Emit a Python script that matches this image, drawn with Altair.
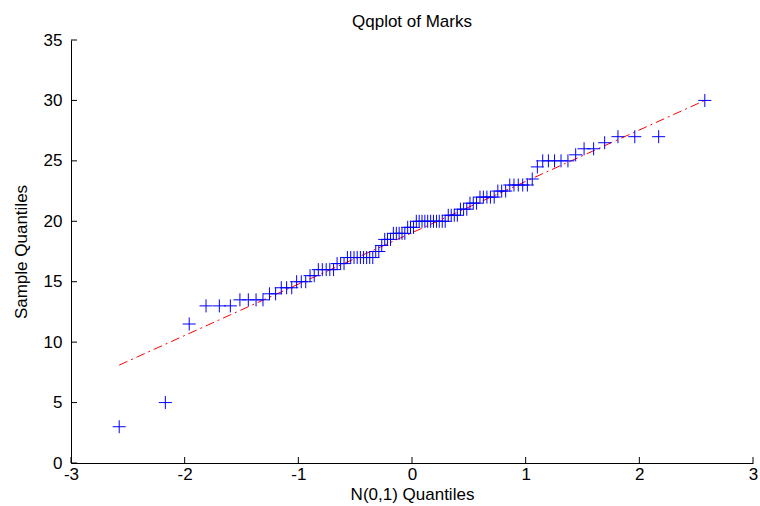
import altair as alt
import pandas as pd

# Theoretical N(0,1) quantiles (x positions of the crosses)
theoretical = [
    -2.576, -2.170, -1.960, -1.812, -1.695, -1.598, -1.514, -1.440, -1.372, -1.311,
    -1.254, -1.200, -1.150, -1.103, -1.058, -1.015, -0.974, -0.935, -0.897, -0.860,
    -0.824, -0.789, -0.755, -0.723, -0.690, -0.659, -0.628, -0.598, -0.568, -0.539,
    -0.510, -0.482, -0.454, -0.426, -0.399, -0.372, -0.345, -0.319, -0.292, -0.266,
    -0.240, -0.215, -0.189, -0.164, -0.138, -0.113, -0.088, -0.063, -0.038, -0.013,
    0.013, 0.038, 0.063, 0.088, 0.113, 0.138, 0.164, 0.189, 0.215, 0.240,
    0.266, 0.292, 0.319, 0.345, 0.372, 0.399, 0.426, 0.454, 0.482, 0.510,
    0.539, 0.568, 0.598, 0.628, 0.659, 0.690, 0.723, 0.755, 0.789, 0.824,
    0.860, 0.897, 0.935, 0.974, 1.015, 1.058, 1.103, 1.150, 1.200, 1.254,
    1.311, 1.372, 1.440, 1.514, 1.598, 1.695, 1.812, 1.960, 2.170, 2.576,
]

# Sorted sample values (Marks)
sample = [
    3, 5, 11.5, 13, 13, 13, 13.5, 13.5, 13.5, 13.5,
    14, 14, 14.5, 14.5, 14.5, 15, 15, 15, 15.5, 15.5,
    16, 16, 16, 16, 16, 16.5, 16.5, 16.5, 17, 17,
    17, 17, 17, 17, 17, 17, 17, 17.5, 17.5, 18,
    18.5, 18.5, 18.5, 19, 19, 19, 19, 19, 19.5, 19.5,
    19.5, 20, 20, 20, 20, 20, 20, 20, 20, 20,
    20, 20, 20.5, 20.5, 20.5, 20.5, 21, 21, 21, 21.5,
    21.5, 21.5, 22, 22, 22, 22, 22, 22.5, 22.5, 22.5,
    23, 23, 23, 23, 23, 23.5, 24.5, 25, 25, 25,
    25, 25, 25.5, 26, 26, 26.5, 27, 27, 27, 30,
]

# Reference line (through quartiles), endpoints
line_x = [-2.576, 2.576]
line_y = [8.1, 30.0]

x_ticks = [-3, -2, -1, 0, 1, 2, 3]
y_ticks = [0, 5, 10, 15, 20, 25, 30, 35]

W, H = 682, 423
FONT = "Liberation Sans"

pts = pd.DataFrame({"x": theoretical, "y": sample})
ln = pd.DataFrame({"x": line_x, "y": line_y})
xt = pd.DataFrame({"x": x_ticks})
yt = pd.DataFrame({"y": y_ticks})

xscale = alt.Scale(domain=[-3, 3], nice=False, zero=False)
yscale = alt.Scale(domain=[0, 35], nice=False, zero=False)

xaxis = alt.Axis(values=x_ticks, title="N(0,1) Quantiles", ticks=False, grid=False,
                 labelPadding=3, titlePadding=4, labelFlush=False,
                 labelExpr="'' + datum.value")
yaxis = alt.Axis(values=y_ticks, title="Sample Quantiles", ticks=False, grid=False,
                 labelPadding=9, titlePadding=13, labelFlush=False,
                 labelExpr="'' + datum.value")

line = alt.Chart(ln).mark_line(color="#FF0000", strokeWidth=1, strokeDash=[9, 4, 2, 4]).encode(
    x=alt.X("x:Q", scale=xscale, axis=xaxis),
    y=alt.Y("y:Q", scale=yscale, axis=yaxis),
)

points = alt.Chart(pts).mark_point(
    shape="M-1,0L1,0M0,-1L0,1", size=170, filled=False, strokeWidth=1,
    color="#0000FF", opacity=1,
).encode(
    x=alt.X("x:Q", scale=xscale),
    y=alt.Y("y:Q", scale=yscale),
)

xtick_marks = alt.Chart(xt).mark_rule(color="black", strokeWidth=1).encode(
    x=alt.X("x:Q", scale=xscale),
    y=alt.value(H),
    y2=alt.value(H - 6),
)

ytick_marks = alt.Chart(yt).mark_rule(color="black", strokeWidth=1).encode(
    y=alt.Y("y:Q", scale=yscale),
    x=alt.value(0),
    x2=alt.value(6),
)

chart = alt.layer(line, points, xtick_marks, ytick_marks).properties(
    width=W, height=H,
    title=alt.TitleParams("Qqplot of Marks", fontSize=17, font=FONT, fontWeight="normal",
                          color="black", offset=0, anchor="middle"),
    autosize=alt.AutoSizeParams(type="none"),
    padding={"left": 71, "top": 40, "right": 7, "bottom": 43},
    background="white",
).configure_view(stroke=None).configure_axis(
    domainColor="black", domainWidth=1, labelColor="black", titleColor="black",
    labelFont=FONT, titleFont=FONT, labelFontSize=17, titleFontSize=17,
    titleFontWeight="normal",
)

chart.save("out.html", embed_options={"renderer": "svg", "actions": False})
